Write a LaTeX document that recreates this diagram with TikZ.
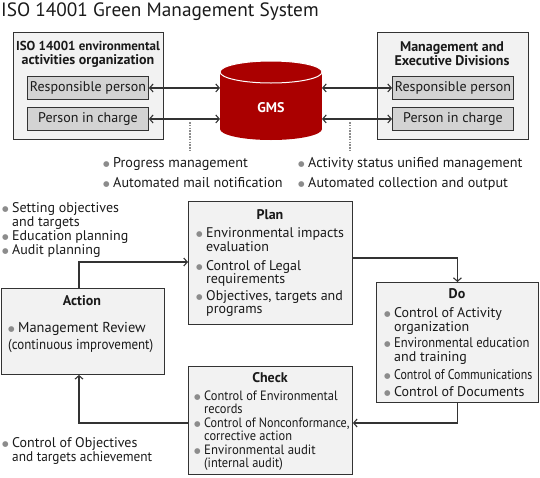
\documentclass[tikz,border=0pt]{standalone}
\usepackage{graphicx}
\usepackage{fontspec}
\setmainfont{PT Sans}
\newfontfamily\symfont{DejaVu Sans}
\usetikzlibrary{arrows.meta}
\definecolor{gmsred}{HTML}{AA0000}
\definecolor{boxfill}{HTML}{F2F2F2}
\definecolor{innerfill}{HTML}{D3D3D3}
\definecolor{edge}{HTML}{333333}
\definecolor{bulgray}{HTML}{8C8C8C}
\definecolor{txt}{HTML}{1A1A1A}
\newcommand{\fs}[2]{\fontsize{#1}{#2}\selectfont}
\newcommand{\bul}{\makebox[10pt][l]{\raisebox{0.9pt}{\textcolor{bulgray}{\symfont\fontsize{7.5}{7.5}\selectfont ●}}}}
\newcommand{\sq}[2]{\scalebox{#1}[1]{#2}}
\begin{document}
\begin{tikzpicture}[x=1pt,y=-1pt,
  bigbox/.style={draw=edge, fill=boxfill, line width=0.9pt, inner sep=0pt, anchor=north west},
  inbox/.style={draw=edge, fill=innerfill, line width=0.9pt, inner sep=0pt, anchor=north west, font=\fs{14}{14}, text=txt},
  ttl/.style={font=\bfseries\fs{14}{14}, inner sep=0pt, anchor=base, text=txt},
  itm/.style={inner sep=0pt, anchor=base west, text=txt},
  link/.style={draw=edge, line width=1.1pt, {Straight Barb[length=3.5pt,width=8pt]}-{Straight Barb[length=3.5pt,width=8pt]}},
  flow/.style={draw=edge, line width=1.1pt, -{Straight Barb[length=3.5pt,width=8pt]}},
  dots/.style={draw=bulgray, line width=1.6pt, dash pattern=on 1.6pt off 1.2pt},
]
\useasboundingbox (0,0) rectangle (540,477);

% title
\node (title) [itm, font=\fs{19.3}{19}] at (1,16.5) {ISO 14001 Green Management System};

% left organisation box
\node (lbox) [bigbox, minimum width=150pt, minimum height=107pt] at (13,32) {};
\node (ltitle) [ttl] at (88,50.5) {\begin{tabular}[t]{@{}c@{}}\fs{13}{15}ISO 14001 environmental\\activities organization\end{tabular}};
\node (lresp) [inbox, minimum width=121pt, minimum height=23pt] at (27,76) {Responsible person};
\node (lpic) [inbox, minimum width=121pt, minimum height=23pt] at (27,107) {Person in charge};

% right management box
\node (rbox) [bigbox, minimum width=151pt, minimum height=107pt] at (377,32) {};
\node (rtitle) [ttl] at (452,51) {\begin{tabular}[t]{@{}c@{}}\fs{14}{14}Management and\\Executive Divisions\end{tabular}};
\node (rresp) [inbox, minimum width=121pt, minimum height=23pt] at (392,76) {Responsible person};
\node (rpic) [inbox, minimum width=121pt, minimum height=23pt] at (392,107) {Person in charge};

% GMS cylinder
\fill[gmsred] (220,72) rectangle (322,129);
\fill[gmsred] (271,129) ellipse [x radius=51, y radius=11];
\filldraw[fill=gmsred, draw=white, line width=1pt] (271,72) ellipse [x radius=51, y radius=11];
\node (gms) [inner sep=0pt, text=white, font=\bfseries\fs{14}{14}] at (271,108) {GMS};
\coordinate (gmsL) at (220,0);
\coordinate (gmsR) at (322,0);

\draw[link] (lresp.east) -- (lresp.east -| gmsL);
\draw[link] (lpic.east) -- (lpic.east -| gmsL);
\draw[link] (rresp.west -| gmsR) -- (rresp.west);
\draw[link] (rpic.west -| gmsR) -- (rpic.west);

% dotted leaders
\coordinate (d1a) at (190,122); \coordinate (d1b) at (190,151);
\coordinate (d2a) at (350,122); \coordinate (d2b) at (350,151);
\draw[dots] (d1a) -- (d1b);
\draw[dots] (d2a) -- (d2b);

% GMS features
\node (f1) [itm, font=\fs{14.2}{14}] at (103,167.5) {\bul Progress management};
\node (f2) [itm, font=\fs{14.2}{14}] at (103,187.5) {\bul Automated mail notification};
\node (f3) [itm, font=\fs{14.2}{14}] at (298,167.5) {\bul Activity status unified management};
\node (f4) [itm, font=\fs{14.2}{14}] at (298,187.5) {\bul Automated collection and output};

% left notes
\node (pnotes) [itm, font=\fs{14}{13.7}] at (2,212.5) {\begin{tabular}[t]{@{}l@{}l@{}}\bul&Setting objectives\\&and targets\\\bul&Education planning\\\bul&Audit planning\end{tabular}};
\node (cnotes) [itm, font=\fs{14}{13}] at (2,447.5) {\begin{tabular}[t]{@{}l@{}l@{}}\bul&Control of Objectives\\&\sq{0.95}{and targets achievement}\end{tabular}};

% Plan
\node (plan) [bigbox, minimum width=164pt, minimum height=123pt] at (188,201) {};
\node (plant) [ttl] at (270,219.5) {Plan};
\node (p1) [itm, font=\fs{14}{13.5}] at (196,237.5) {\begin{tabular}[t]{@{}l@{}l@{}}\bul&Environmental impacts\\&evaluation\end{tabular}};
\node (p2) [itm, font=\fs{14}{13}] at (196,270) {\begin{tabular}[t]{@{}l@{}l@{}}\bul&Control of Legal\\&requirements\end{tabular}};
\node (p3) [itm, font=\fs{14}{12.5}] at (196,300.5) {\begin{tabular}[t]{@{}l@{}l@{}}\bul&Objectives, targets and\\&programs\end{tabular}};

% Do
\node (do) [bigbox, minimum width=162pt, minimum height=120pt] at (376,282) {};
\node (dot) [ttl] at (457,298.5) {Do};
\node (d1) [itm, font=\fs{14}{12.5}] at (384,317.5) {\begin{tabular}[t]{@{}l@{}l@{}}\bul&Control of Activity\\&organization\end{tabular}};
\node (d2) [itm, font=\fs{14}{13.5}] at (384,347.5) {\begin{tabular}[t]{@{}l@{}l@{}}\bul&\sq{0.9}{Environmental education}\\&and training\end{tabular}};
\node (d3) [itm, font=\fs{14}{14}] at (384,379) {\bul \sq{0.85}{Control of Communications}};
\node (d4) [itm, font=\fs{14}{14}] at (384,396.5) {\bul Control of Documents};

% Check
\node (check) [bigbox, minimum width=164pt, minimum height=108pt] at (188,366) {};
\node (checkt) [ttl] at (270,382.5) {Check};
\node (c1) [itm, font=\fs{13.5}{13}] at (194,400) {\begin{tabular}[t]{@{}l@{}l@{}}\bul&\sq{0.92}{Control of Environmental}\\&\sq{0.92}{records}\end{tabular}};
\node (c2) [itm, font=\fs{13.5}{13}] at (194,427) {\begin{tabular}[t]{@{}l@{}l@{}}\bul&\sq{0.9}{Control of Nonconformance,}\\&\sq{0.92}{corrective action}\end{tabular}};
\node (c3) [itm, font=\fs{13.5}{13}] at (194,454) {\begin{tabular}[t]{@{}l@{}l@{}}\bul&\sq{0.95}{Environmental audit}\\&\sq{0.92}{(internal audit)}\end{tabular}};

% Action
\node (action) [bigbox, minimum width=163pt, minimum height=86pt] at (1,288) {};
\node (actiont) [ttl] at (82,305.5) {Action};
\node (a1) [itm, font=\fs{14.4}{17}] at (8,332.5) {\begin{tabular}[t]{@{}l@{}}\bul Management Review\\\sq{0.9}{(continuous improvement)}\end{tabular}};

% PDCA flow
\coordinate (k1) at (79,262);
\coordinate (k2) at (457,258);
\coordinate (k3) at (457,423);
\draw[flow] (action.north -| k1) |- (plan.west |- k1);
\draw[flow] (plan.east |- k2) -| (do.north);
\draw[flow] (do.south) |- (check.east |- k3);
\draw[flow] (check.west |- k3) -| (action.south -| k1);
\end{tikzpicture}
\end{document}
